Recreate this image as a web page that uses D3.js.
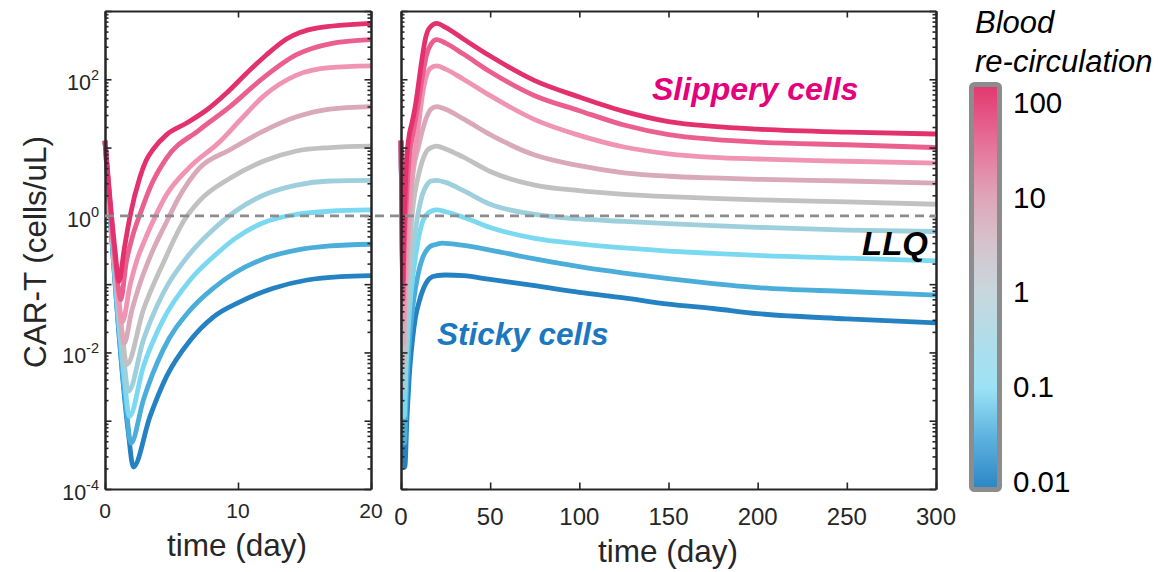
<!DOCTYPE html>
<html>
<head>
<meta charset="utf-8">
<script src="https://cdn.jsdelivr.net/npm/d3@7"></script>
<style>
  html, body { margin: 0; padding: 0; background: #fff; }
  svg { display: block; font-family: "Liberation Sans", Arial, Helvetica, sans-serif; }
</style>
</head>
<body>
<script>
// CAR-T concentration in blood for different re-circulation rates.
// Each series: [time (day), CAR-T (cells/uL)]
const recirc100 = [[0,12.6],[0.75,0.32],[1.05,0.11],[1.45,0.33],[1.88,0.98],[2.63,3.7],[3.1,6.5],[3.63,9.5],[4.64,15.5],[6.14,22.9],[7.64,35.5],[9.14,63],[10.65,123],[12.15,229],[13.65,389],[15.9,562],[20,661],[25,575],[35,389],[50,219],[75,95.5],[100,55],[125,33.9],[150,24],[175,20.4],[200,18.6],[250,16.8],[300,15.8]];
const recirc32 = [[0,12.6],[0.83,0.178],[1.18,0.059],[1.6,0.209],[2.1,0.525],[2.68,1.12],[3.4,2.63],[4.6,6.9],[7.1,18.2],[9.4,39.8],[11.9,105],[14.4,229],[16.9,331],[20,380],[25,339],[35,234],[50,129],[75,57.5],[100,34.7],[125,21.4],[150,15.5],[175,13.2],[200,12.0],[250,11.0],[300,10.0]];
const recirc10 = [[0,12.6],[0.95,0.089],[1.3,0.028],[1.9,0.1],[2.4,0.224],[3.0,0.447],[3.8,1.0],[4.6,2.0],[6.4,5.25],[8.65,12.3],[10.15,25.1],[11.9,56.2],[14.4,115],[16.9,148],[20,157],[25,141],[35,100],[50,57.5],[75,25.7],[100,15.1],[125,10.2],[150,8.1],[175,7.2],[200,6.8],[250,6.3],[300,5.9]];
const recirc3 = [[0,12.6],[1.08,0.0417],[1.43,0.0135],[2.0,0.0398],[2.63,0.102],[3.5,0.282],[4.6,0.794],[5.5,1.78],[7.1,5.0],[9.4,9.3],[11.9,17.4],[14.4,28.2],[16.9,36.7],[20,39.8],[25,36.3],[35,26.3],[50,15.5],[75,7.76],[100,5.43],[125,4.27],[150,3.8],[175,3.59],[200,3.43],[250,3.24],[300,3.02]];
const recirc1 = [[0,12.6],[1.27,0.0209],[1.63,0.0066],[2.88,0.0417],[4.38,0.204],[6.0,0.891],[7.1,1.66],[9.4,3.55],[11.9,6.31],[14.4,8.91],[16.9,10.0],[20,10.5],[25,9.55],[35,7.24],[50,4.47],[75,2.82],[100,2.34],[125,2.07],[150,1.91],[175,1.8],[200,1.72],[250,1.6],[300,1.48]];
const recirc03 = [[0,12.6],[1.4,0.0085],[1.76,0.0027],[2.88,0.0151],[4.38,0.0741],[6.4,0.282],[8.14,0.631],[9.8,1.17],[11.9,2.0],[14.4,2.82],[16.9,3.24],[20,3.31],[25,3.09],[35,2.34],[50,1.48],[75,1.05],[100,0.9],[125,0.83],[150,0.77],[175,0.72],[200,0.68],[250,0.62],[300,0.59]];
const recirc01 = [[0,12.6],[1.48,0.00363],[1.83,0.00115],[2.88,0.00617],[4.38,0.0302],[6.4,0.115],[8.14,0.251],[9.8,0.468],[11.9,0.794],[14.4,1.05],[16.9,1.17],[20,1.22],[25,1.15],[35,0.955],[50,0.676],[75,0.468],[100,0.389],[125,0.339],[150,0.305],[175,0.282],[200,0.263],[250,0.24],[300,0.219]];
const recirc003 = [[0,12.6],[1.6,0.00148],[1.95,0.000468],[2.88,0.002],[4.38,0.011],[6.4,0.0417],[8.14,0.0871],[9.8,0.148],[11.9,0.234],[14.4,0.316],[16.9,0.363],[20,0.384],[23,0.398],[35,0.37],[50,0.316],[75,0.234],[100,0.18],[125,0.145],[150,0.12],[175,0.102],[200,0.089],[250,0.078],[300,0.069]];
const recirc001 = [[0,12.6],[1.75,0.00068],[2.13,0.00021],[3.38,0.00115],[4.64,0.0045],[6.4,0.015],[8.14,0.033],[10.15,0.055],[12.65,0.087],[15.2,0.115],[17.7,0.129],[20,0.133],[25,0.136],[35,0.133],[50,0.117],[75,0.095],[100,0.076],[125,0.063],[150,0.051],[175,0.044],[200,0.037],[250,0.031],[300,0.027]];

const seriesList = [recirc100, recirc32, recirc10, recirc3, recirc1, recirc03, recirc01, recirc003, recirc001];
const seriesColors = ["#e3316e", "#ea5f8e", "#f094b3", "#d9a9b9", "#c1c1c1", "#9ecfdd", "#7ad8f1", "#4badda", "#2481c2"];

const llq = 1;
const leftTimeTicks = [0, 10, 20];
const rightTimeTicks = [0, 50, 100, 150, 200, 250, 300];
const yLabelExponents = [-4, -2, 0, 2];
const colorbarTicks = [0.01, 0.1, 1, 10, 100];
const colorbarTickLabels = ["0.01", "0.1", "1", "10", "100"];
const colorbarStops = [
  [0.00, "#e3366f"], [0.14, "#e66f97"], [0.275, "#dfa4b8"], [0.39, "#d5c3cc"],
  [0.51, "#c8d7dd"], [0.63, "#b0dde9"], [0.75, "#9ce2f5"], [0.87, "#5db3df"], [1.00, "#2b85c5"]
];

const svg = d3.select("body").append("svg").attr("width", 1158).attr("height", 572);
const ink = "#262626";

const y = d3.scaleLog().domain([1e-4, 1e3]).range([489, 11]);
const xL = d3.scaleLinear().domain([0, 20]).range([105, 371]);
const xR = d3.scaleLinear().domain([0, 300]).range([401, 936]);

const minorTicks = [];
for (let e = -4; e <= 2; e++) for (let m = 2; m <= 9; m++) minorTicks.push(m * Math.pow(10, e));
const majorTicks = d3.range(-4, 4).map(e => Math.pow(10, e));

function styleAxis(g) {
  g.selectAll("path.domain").attr("stroke", ink).attr("stroke-width", 2);
  g.selectAll(".tick line").attr("stroke", ink).attr("stroke-width", 1.6);
}

function drawPanel(x, timeTicks, tickFont, labelY) {
  const [x0, x1] = x.range();
  const [y1, y0] = y.range();
  const panel = svg.append("g");

  // curves, low re-circulation first so high re-circulation sits on top
  const line = d3.line().x(d => x(d[0])).y(d => y(d[1])).curve(d3.curveMonotoneX);
  const tMax = x.domain()[1];
  const order = d3.range(seriesList.length).reverse();
  panel.append("g").selectAll("path").data(order).join("path")
    .attr("d", i => line(seriesList[i].filter(d => d[0] <= tMax)))
    .attr("fill", "none")
    .attr("stroke", i => seriesColors[i])
    .attr("stroke-width", 4.8)
    .attr("stroke-linejoin", "round");

  // box axes with inward ticks
  const axes = [
    [d3.axisLeft(y), `translate(${x0},0)`],
    [d3.axisRight(y), `translate(${x1},0)`]
  ];
  axes.forEach(([ax, tr]) => {
    panel.append("g").attr("transform", tr)
      .call(ax.tickValues(minorTicks).tickSize(-3.5).tickSizeOuter(0).tickFormat(""))
      .call(styleAxis);
    panel.append("g").attr("transform", tr)
      .call(ax.tickValues(majorTicks).tickSize(-6.5).tickSizeOuter(0).tickFormat(""))
      .call(styleAxis);
  });
  panel.append("g").attr("transform", `translate(0,${y0})`)
    .call(d3.axisTop(x).tickValues(timeTicks).tickSize(-6.5).tickSizeOuter(0).tickFormat(""))
    .call(styleAxis);
  panel.append("g").attr("transform", `translate(0,${y1})`)
    .call(d3.axisBottom(x).tickValues(timeTicks).tickSize(-6.5).tickSizeOuter(0).tickFormat(""))
    .call(styleAxis);

  // time tick labels
  panel.append("g").selectAll("text").data(timeTicks).join("text")
    .attr("x", d => x(d)).attr("y", labelY)
    .attr("text-anchor", "middle").attr("font-size", tickFont).attr("fill", ink)
    .text(d => d);
  return panel;
}

drawPanel(xL, leftTimeTicks, 21, 518);
drawPanel(xR, rightTimeTicks, 24, 525);

// y tick labels with superscript exponents
const yLab = svg.append("g");
yLabelExponents.forEach(e => {
  const t = yLab.append("text")
    .attr("x", 99).attr("y", y(Math.pow(10, e)) + 11)
    .attr("text-anchor", "end").attr("font-size", 21.5).attr("fill", ink);
  t.append("tspan").text("10");
  t.append("tspan").attr("dy", -10).attr("font-size", 14.5).text(e < 0 ? "-" + Math.abs(e) : e);
});

// lower limit of quantification
svg.append("line")
  .attr("x1", xL(0)).attr("x2", xR(300))
  .attr("y1", y(llq)).attr("y2", y(llq))
  .attr("stroke", "#8c8c8c").attr("stroke-width", 2.6).attr("stroke-dasharray", "9,6");

// axis titles
svg.append("text").attr("x", 237).attr("y", 556).attr("text-anchor", "middle")
  .attr("font-size", 31.5).attr("fill", ink).text("time (day)");
svg.append("text").attr("x", 668).attr("y", 562).attr("text-anchor", "middle")
  .attr("font-size", 31.5).attr("fill", ink).text("time (day)");
svg.append("text").attr("transform", "translate(46,252) rotate(-90)").attr("text-anchor", "middle")
  .attr("font-size", 31.5).attr("fill", ink).text("CAR-T (cells/uL)");

// annotations
svg.append("text").attr("x", 652).attr("y", 100).attr("font-size", 32)
  .attr("font-weight", "bold").attr("font-style", "italic").attr("fill", "#e5007c").text("Slippery cells");
svg.append("text").attr("x", 437).attr("y", 345).attr("font-size", 31.5)
  .attr("font-weight", "bold").attr("font-style", "italic").attr("fill", "#1b78c0").text("Sticky cells");
svg.append("text").attr("x", 862).attr("y", 255).attr("font-size", 33)
  .attr("font-weight", "bold").attr("font-style", "italic").attr("fill", "#000").text("LLQ");

// colorbar
const cbar = d3.scaleLog().domain([0.0087, 145]).range([487, 87]);
const grad = svg.append("defs").append("linearGradient").attr("id", "recircGrad")
  .attr("x1", 0).attr("x2", 0).attr("y1", 0).attr("y2", 1);
grad.selectAll("stop").data(colorbarStops).join("stop")
  .attr("offset", d => d[0]).attr("stop-color", d => d[1]);
svg.append("rect")
  .attr("x", 971.5).attr("y", cbar.range()[1] - 2.5)
  .attr("width", 28).attr("height", cbar.range()[0] - cbar.range()[1] + 5)
  .attr("rx", 3).attr("fill", "url(#recircGrad)")
  .attr("stroke", "#8c8c8c").attr("stroke-width", 5);
svg.append("g").selectAll("text").data(colorbarTicks).join("text")
  .attr("x", 1013).attr("y", d => cbar(d)).attr("dy", "0.36em")
  .attr("font-size", 29.5).attr("fill", "#000")
  .text((d, i) => colorbarTickLabels[i]);
svg.append("text").attr("x", 975).attr("y", 33).attr("font-size", 31)
  .attr("font-style", "italic").attr("fill", "#000").text("Blood");
svg.append("text").attr("x", 975).attr("y", 72).attr("font-size", 31)
  .attr("font-style", "italic").attr("fill", "#000").text("re-circulation");
</script>
</body>
</html>
